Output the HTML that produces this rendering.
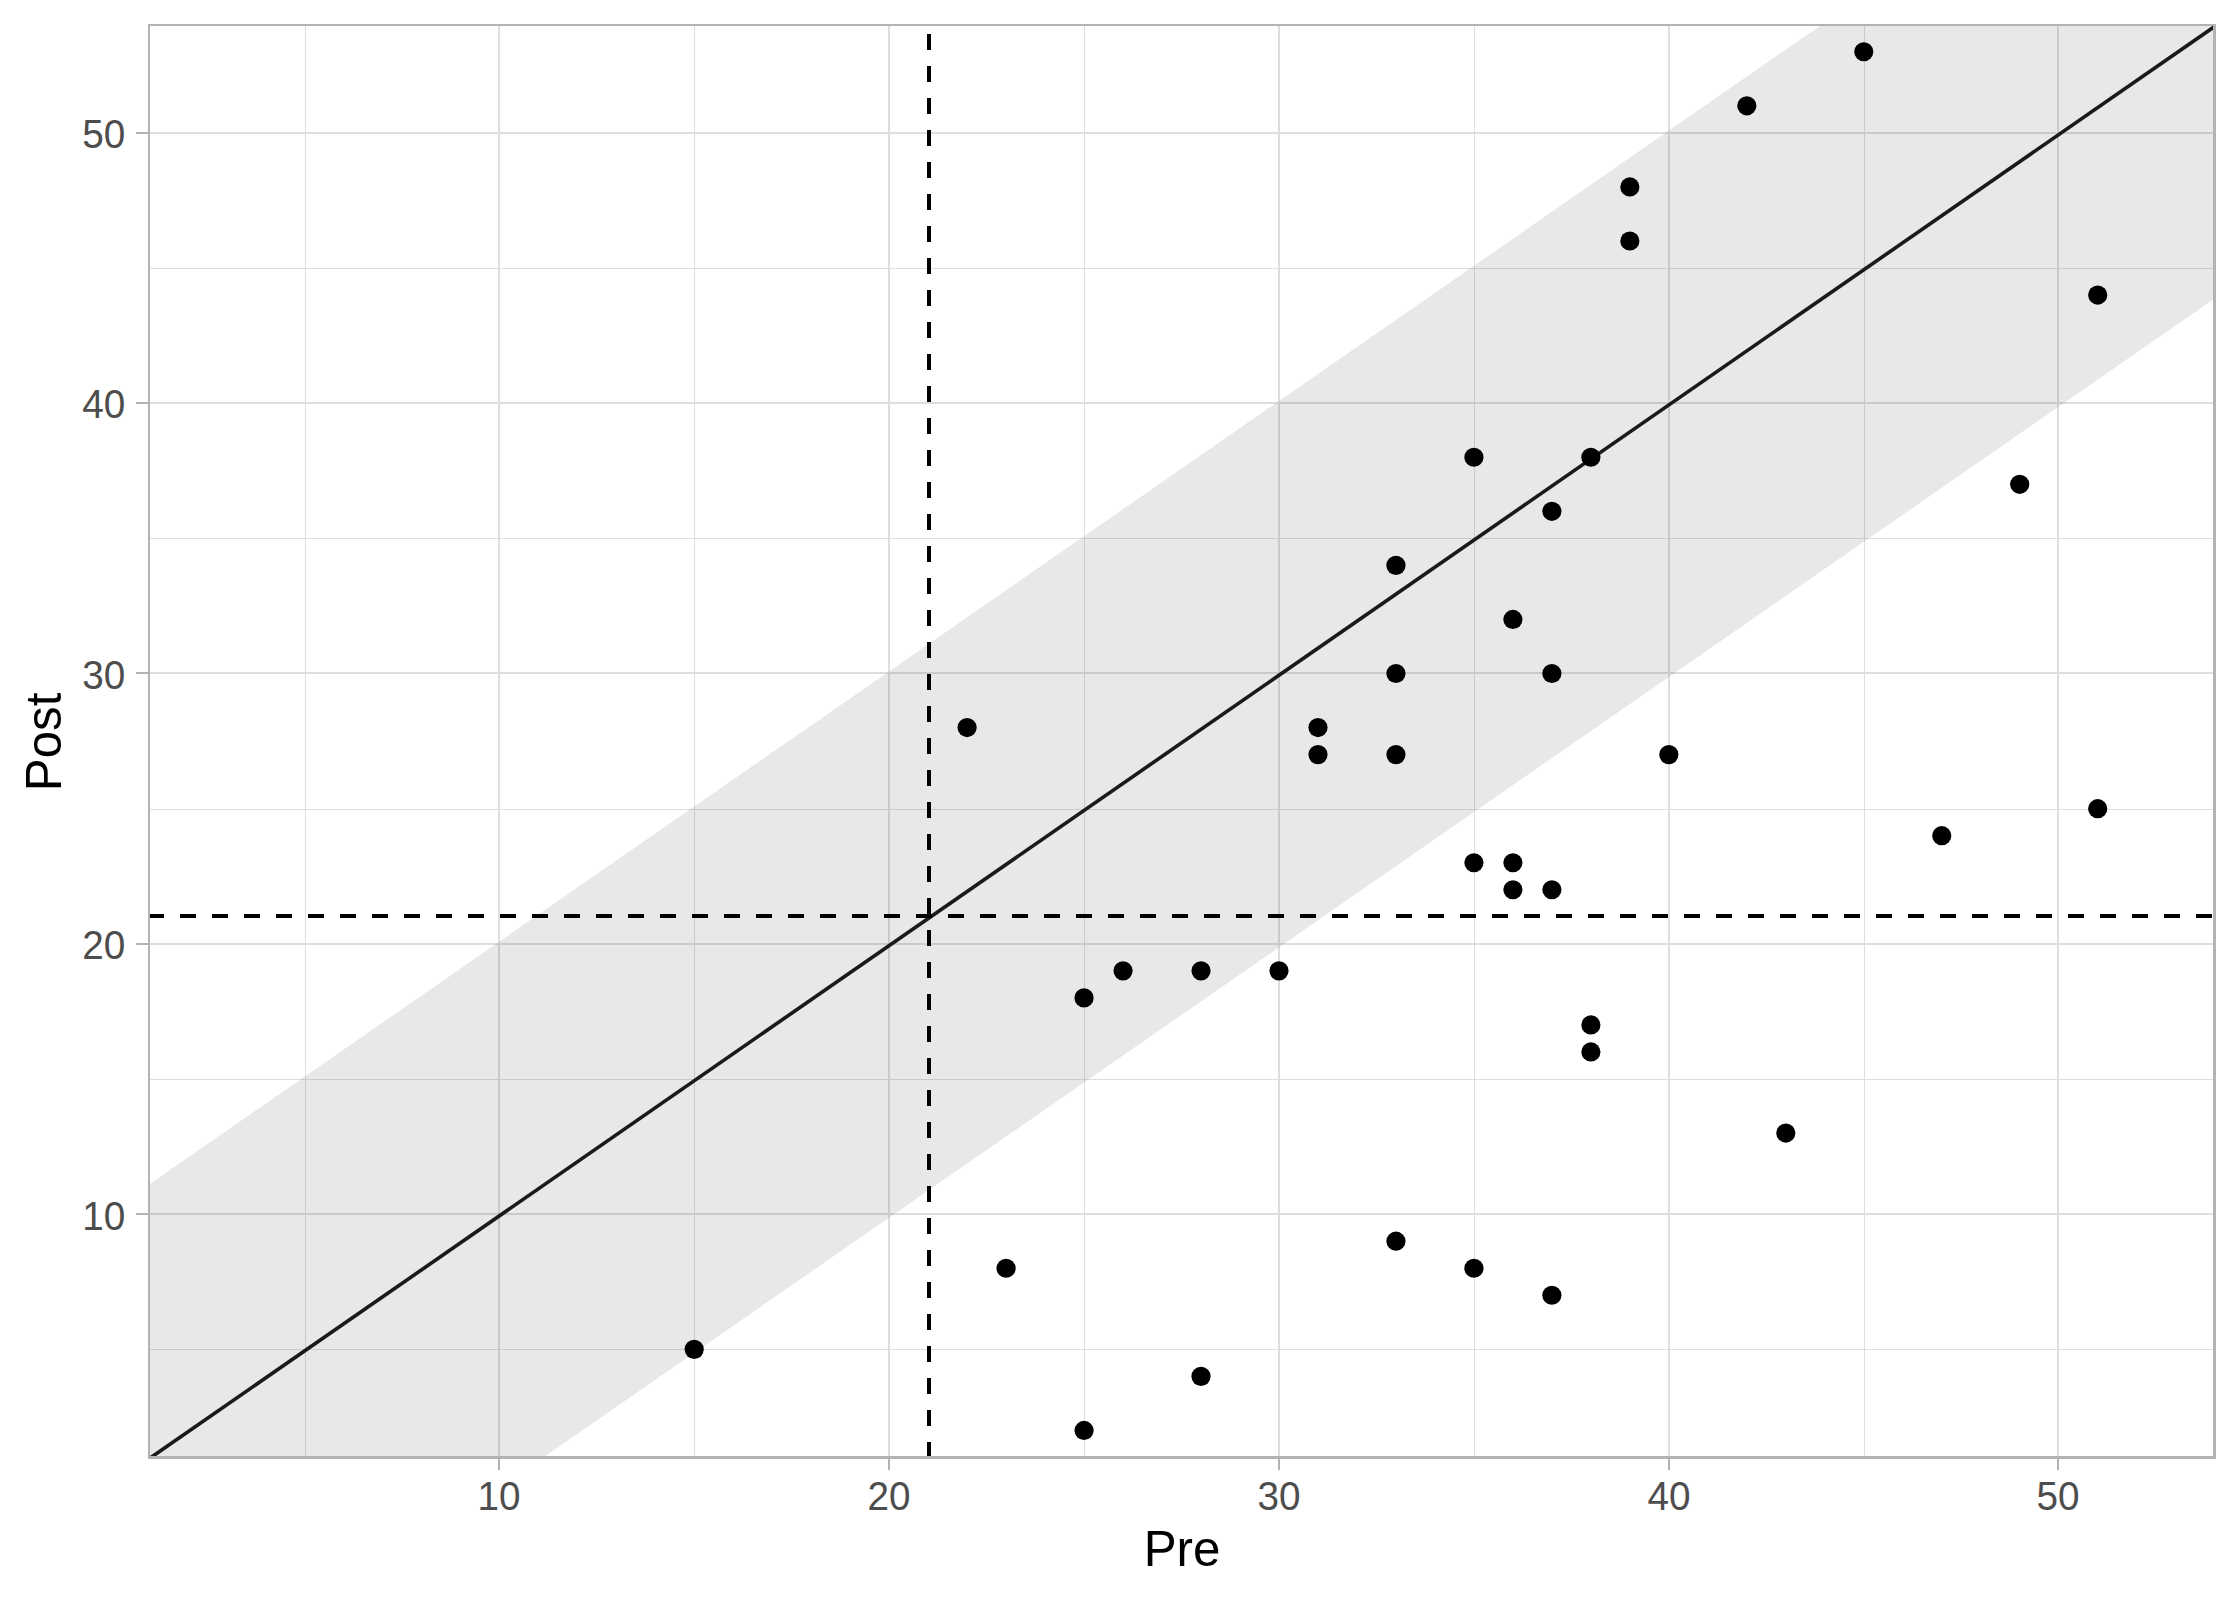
<!DOCTYPE html><html><head><meta charset="utf-8"><style>html,body{margin:0;padding:0;background:#fff;width:2240px;height:1600px;overflow:hidden}svg{display:block}text{font-family:"Liberation Sans",sans-serif}</style></head><body>
<svg width="2240" height="1600" viewBox="0 0 2240 1600">
<rect x="0" y="0" width="2240" height="1600" fill="#fff"/>
<defs><clipPath id="pc"><rect x="148.40" y="24.72" width="2066.26" height="1432.75"/></clipPath></defs>
<g fill="#DEDEDE" shape-rendering="crispEdges"><rect x="305" y="26" width="1" height="1430"/><rect x="150" y="1349" width="2063" height="1"/><rect x="694" y="26" width="1" height="1430"/><rect x="150" y="1079" width="2063" height="1"/><rect x="1084" y="26" width="1" height="1430"/><rect x="150" y="809" width="2063" height="1"/><rect x="1474" y="26" width="1" height="1430"/><rect x="150" y="538" width="2063" height="1"/><rect x="1864" y="26" width="1" height="1430"/><rect x="150" y="268" width="2063" height="1"/></g>
<g fill="#DEDEDE" shape-rendering="crispEdges"><rect x="498" y="26" width="2" height="1430"/><rect x="150" y="1213" width="2063" height="2"/><rect x="888" y="26" width="2" height="1430"/><rect x="150" y="943" width="2063" height="2"/><rect x="1278" y="26" width="2" height="1430"/><rect x="150" y="672" width="2063" height="2"/><rect x="1668" y="26" width="2" height="1430"/><rect x="150" y="402" width="2063" height="2"/><rect x="2057" y="26" width="2" height="1430"/><rect x="150" y="132" width="2063" height="2"/></g>
<g clip-path="url(#pc)">
<polygon points="109.41,1212.01 1860.66,-2.32 2253.64,-2.32 2253.64,271.53 504.34,1484.50 109.41,1484.50" fill="#000" fill-opacity="0.090"/>
<line x1="109.41" y1="1486.28" x2="2253.64" y2="-0.53" stroke="#1A1A1A" stroke-width="3.60"/>
<line x1="929.00" y1="1458.00" x2="929.00" y2="24.72" stroke="#000" stroke-width="4.00" stroke-dasharray="16 16"/>
<line x1="148.00" y1="916.00" x2="2214.65" y2="916.00" stroke="#000" stroke-width="4.00" stroke-dasharray="16 16"/>
</g>
<g fill="#000"><circle cx="694.20" cy="1349.34" r="9.60"/><circle cx="967.10" cy="727.58" r="9.60"/><circle cx="1006.09" cy="1268.24" r="9.60"/><circle cx="1084.06" cy="997.91" r="9.60"/><circle cx="1084.06" cy="1430.43" r="9.60"/><circle cx="1123.05" cy="970.87" r="9.60"/><circle cx="1201.02" cy="970.87" r="9.60"/><circle cx="1201.02" cy="1376.37" r="9.60"/><circle cx="1278.99" cy="970.87" r="9.60"/><circle cx="1317.98" cy="727.58" r="9.60"/><circle cx="1317.98" cy="754.61" r="9.60"/><circle cx="1395.95" cy="565.38" r="9.60"/><circle cx="1395.95" cy="673.51" r="9.60"/><circle cx="1395.95" cy="754.61" r="9.60"/><circle cx="1395.95" cy="1241.20" r="9.60"/><circle cx="1473.92" cy="457.25" r="9.60"/><circle cx="1473.92" cy="862.74" r="9.60"/><circle cx="1473.92" cy="1268.24" r="9.60"/><circle cx="1512.91" cy="619.44" r="9.60"/><circle cx="1512.91" cy="862.74" r="9.60"/><circle cx="1512.91" cy="889.77" r="9.60"/><circle cx="1551.89" cy="511.31" r="9.60"/><circle cx="1551.89" cy="673.51" r="9.60"/><circle cx="1551.89" cy="889.77" r="9.60"/><circle cx="1551.89" cy="1295.27" r="9.60"/><circle cx="1590.88" cy="457.25" r="9.60"/><circle cx="1590.88" cy="1024.94" r="9.60"/><circle cx="1590.88" cy="1051.97" r="9.60"/><circle cx="1629.86" cy="186.92" r="9.60"/><circle cx="1629.86" cy="240.98" r="9.60"/><circle cx="1668.85" cy="754.61" r="9.60"/><circle cx="1746.82" cy="105.82" r="9.60"/><circle cx="1785.81" cy="1133.07" r="9.60"/><circle cx="1863.78" cy="51.75" r="9.60"/><circle cx="1941.75" cy="835.71" r="9.60"/><circle cx="2019.72" cy="484.28" r="9.60"/><circle cx="2097.70" cy="295.05" r="9.60"/><circle cx="2097.70" cy="808.67" r="9.60"/></g>
<g fill="#B3B3B3" shape-rendering="crispEdges">
<rect x="148" y="24" width="2" height="1435"/><rect x="2213" y="24" width="3" height="1435"/>
<rect x="148" y="24" width="2068" height="2"/><rect x="148" y="1456" width="2068" height="3"/>
<rect x="136" y="1213" width="12" height="2"/>
<rect x="498" y="1459" width="2" height="11"/>
<rect x="136" y="943" width="12" height="2"/>
<rect x="888" y="1459" width="2" height="11"/>
<rect x="136" y="672" width="12" height="2"/>
<rect x="1278" y="1459" width="2" height="11"/>
<rect x="136" y="402" width="12" height="2"/>
<rect x="1668" y="1459" width="2" height="11"/>
<rect x="136" y="132" width="12" height="2"/>
<rect x="2057" y="1459" width="2" height="11"/>
</g>
<g fill="#4D4D4D" font-size="38.70">
<text transform="translate(125.40,1230.20) scale(1,1.045)" text-anchor="end">10</text>
<text transform="translate(499.00,1510.20) scale(1,1.045)" text-anchor="middle">10</text>
<text transform="translate(125.40,959.00) scale(1,1.045)" text-anchor="end">20</text>
<text transform="translate(889.00,1510.20) scale(1,1.045)" text-anchor="middle">20</text>
<text transform="translate(125.40,688.60) scale(1,1.045)" text-anchor="end">30</text>
<text transform="translate(1279.00,1510.20) scale(1,1.045)" text-anchor="middle">30</text>
<text transform="translate(125.40,418.20) scale(1,1.045)" text-anchor="end">40</text>
<text transform="translate(1669.00,1510.20) scale(1,1.045)" text-anchor="middle">40</text>
<text transform="translate(125.40,148.20) scale(1,1.045)" text-anchor="end">50</text>
<text transform="translate(2058.00,1510.20) scale(1,1.045)" text-anchor="middle">50</text>
</g>
<text transform="translate(1182.00,1565.80) scale(1,1.010)" text-anchor="middle" font-size="49.30" fill="#000">Pre</text>
<text transform="translate(60.75,741.90) rotate(-90) scale(1,1.010)" text-anchor="middle" font-size="49.30" fill="#000">Post</text>
</svg></body></html>
